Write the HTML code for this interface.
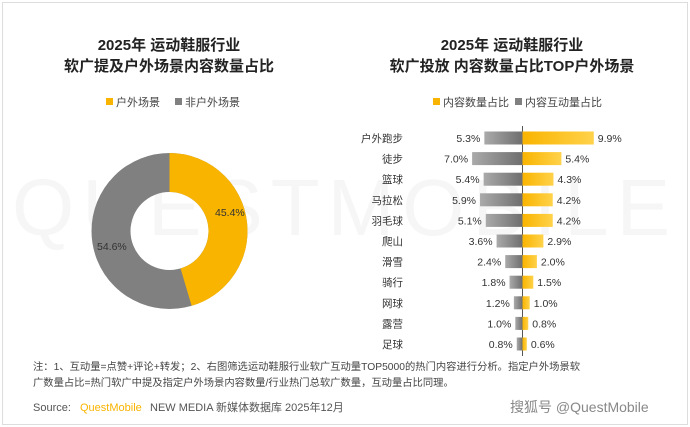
<!DOCTYPE html>
<html><head><meta charset="utf-8"><style>
body{margin:0;background:#fff;}
#c{position:relative;width:690px;height:427px;overflow:hidden;font-family:"Liberation Sans","Noto Sans CJK SC",sans-serif;}
.t{position:absolute;font-weight:bold;font-size:15px;color:#222;text-align:center;line-height:21px;white-space:nowrap;}
</style></head><body><div id="c">
<div style="position:absolute;left:2px;top:2px;width:684px;height:421px;border:1px solid #ddd;"></div>
<div class="t" style="left:39px;top:35px;width:260px;">2025年 运动鞋服行业<br>软广提及户外场景内容数量占比</div>
<div class="t" style="left:362px;top:35px;width:300px;">2025年 运动鞋服行业<br>软广投放 内容数量占比TOP户外场景</div>
<svg width="690" height="427" style="position:absolute;left:0;top:0" font-family="Liberation Sans, Noto Sans CJK SC, sans-serif">
<text x="345" y="235" font-size="80" fill="#f6f6f6" text-anchor="middle" letter-spacing="8">QUESTMOBILE</text>
<g font-size="11" fill="#444">
<rect x="106" y="98" width="7" height="7" fill="#f9b400"/><text x="116" y="106">户外场景</text>
<rect x="175" y="98" width="7" height="7" fill="#808080"/><text x="185" y="106">非户外场景</text>
<rect x="433" y="98" width="7" height="7" fill="#f9b400"/><text x="443" y="106">内容数量占比</text>
<rect x="515" y="98" width="7" height="7" fill="#808080"/><text x="525" y="106">内容互动量占比</text>
</g>
<defs><linearGradient id="go" x1="0" x2="1"><stop offset="0" stop-color="#f9b400"/><stop offset="1" stop-color="#ffd24a"/></linearGradient>
<linearGradient id="gg" x1="0" x2="1"><stop offset="0" stop-color="#aaa"/><stop offset="1" stop-color="#6e6e6e"/></linearGradient></defs>
<circle cx="169.5" cy="231" r="58.5" fill="none" stroke="#808080" stroke-width="39"/>
<circle cx="169.5" cy="231" r="58.5" fill="none" stroke="#f9b400" stroke-width="39" stroke-dasharray="166.9 500" transform="rotate(-90 169.5 231)"/>
<text x="215" y="216" font-size="10.5" fill="#333">45.4%</text>
<text x="97" y="250" font-size="10.5" fill="#333">54.6%</text>
<line x1="522.5" y1="126" x2="522.5" y2="356" stroke="#555" stroke-width="1"/>
<g font-size="10.5" fill="#333" id="bars"></g>
<text x="33" y="411" font-size="11" fill="#555">Source:</text>
<text x="80" y="411" font-size="11" fill="#f9b400">QuestMobile</text>
<text x="150" y="411" font-size="11" fill="#555">NEW MEDIA 新媒体数据库 2025年12月</text>
<text x="510" y="412" font-size="14" fill="#888">搜狐号 @QuestMobile</text>
</svg>
<div style="position:absolute;left:33px;top:360px;font-size:10.3px;line-height:16px;color:#444;white-space:nowrap;">注：1、互动量=点赞+评论+转发；2、右图筛选运动鞋服行业软广互动量TOP5000的热门内容进行分析。指定户外场景软<br>广数量占比=热门软广中提及指定户外场景内容数量/行业热门总软广数量，互动量占比同理。</div>
</div>
<script>
var d=[["户外跑步",5.3,9.9],["徒步",7.0,5.4],["篮球",5.4,4.3],["马拉松",5.9,4.2],["羽毛球",5.1,4.2],["爬山",3.6,2.9],["滑雪",2.4,2.0],["骑行",1.8,1.5],["网球",1.2,1.0],["露营",1.0,0.8],["足球",0.8,0.6]];
var g=document.getElementById('bars'),s='',k=7.2,cx=522.5;
d.forEach(function(r,i){var y=138+i*20.6;
var wl=r[1]*k,wr=r[2]*k;
s+='<text x="403" y="'+(y+4)+'" text-anchor="end">'+r[0]+'</text>';
s+='<rect x="'+(cx-wl)+'" y="'+(y-6.5)+'" width="'+wl+'" height="13" fill="url(#gg)"/>';
s+='<rect x="'+cx+'" y="'+(y-6.5)+'" width="'+wr+'" height="13" fill="url(#go)"/>';
s+='<text x="'+(cx-wl-4)+'" y="'+(y+4)+'" text-anchor="end">'+r[1].toFixed(1)+'%</text>';
s+='<text x="'+(cx+wr+4)+'" y="'+(y+4)+'">'+r[2].toFixed(1)+'%</text>';});
g.innerHTML=s;
</script>
</body></html>
